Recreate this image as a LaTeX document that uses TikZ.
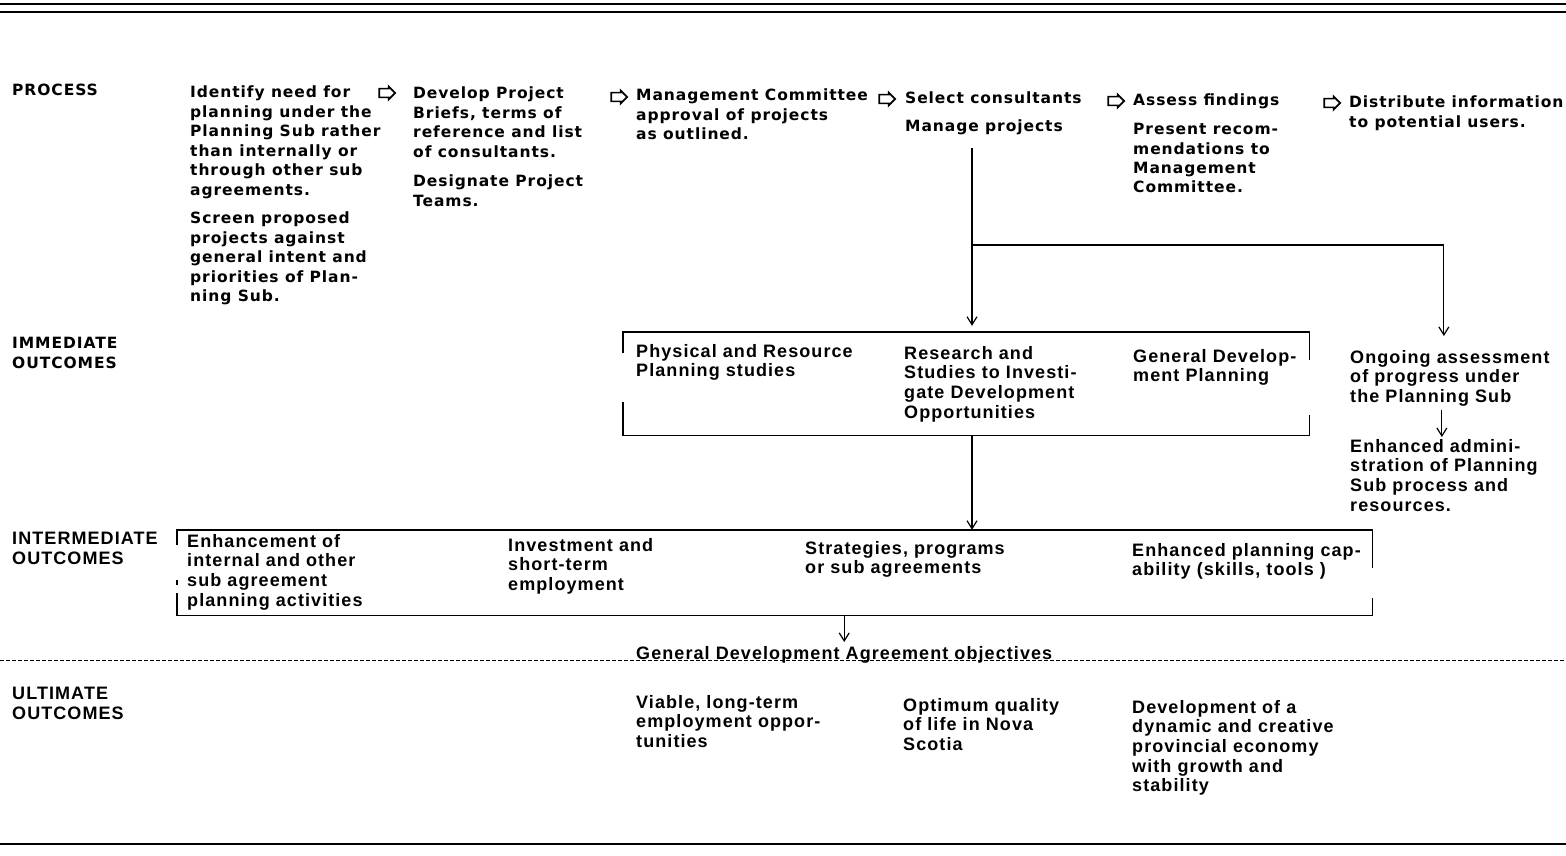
\documentclass[tikz,border=0pt]{standalone}
\usepackage{fontspec}
\newfontfamily\procfont[LetterSpace=6]{DejaVu Sans}
\newfontfamily\outfont[LetterSpace=6]{Liberation Sans}
\usetikzlibrary{arrows.meta,shapes.arrows}

\begin{document}
\begin{tikzpicture}[x=1pt,y=-1pt,
    proc/.style={anchor=north west,align=left,inner sep=0pt,
      font=\procfont\bfseries\fontsize{15.5}{19.5}\selectfont},
    outc/.style={anchor=north west,align=left,inner sep=0pt,
      font=\outfont\bfseries\fontsize{18}{19.6}\selectfont},
    flowarrow/.style={single arrow,draw,line width=1.7pt,minimum height=16pt,
      minimum width=13pt,single arrow head extend=2pt,inner sep=3.2pt},
    conn/.style={line width=1.2pt,-{Straight Barb[length=8pt,width=10pt]}},
    rule/.style={line width=1.4pt}]

\useasboundingbox (0,0) rectangle (1566,856);

% Page rules
\draw[line width=2.5pt] (0,4) -- (1566,4);
\draw[line width=2.5pt] (0,12) -- (1566,12);
\draw[line width=1pt,dash pattern=on 4pt off 2pt] (0,660) -- (1566,660);
\draw[line width=2pt] (0,844) -- (1566,844);

% Row labels
\node[proc] (lprocess) at (12,84) {PROCESS};
\node[proc] (limmediate) at (12,337) {IMMEDIATE\\OUTCOMES};
\node[outc] (lintermediate) at (12,532) {INTERMEDIATE\\OUTCOMES};
\node[outc] (lultimate) at (12,687) {ULTIMATE\\OUTCOMES};

% Process steps
\node[proc] (identify) at (190,86) {Identify need for\\planning under the\\Planning Sub rather\\than internally or\\through other sub\\agreements.};
\node[proc] (screen) at (190,212) {Screen proposed\\projects against\\general intent and\\priorities of Plan-\\ning Sub.};
\node[proc] (develop) at (413,87) {Develop Project\\Briefs, terms of\\reference and list\\of consultants.};
\node[proc] (designate) at (413,175) {Designate Project\\Teams.};
\node[proc] (approval) at (636,89) {Management Committee\\approval of projects\\as outlined.};
\node[proc] (select) at (905,92) {Select consultants};
\node[proc] (manage) at (905,120) {Manage projects};
\node[proc] (assess) at (1133,94) {Assess findings};
\node[proc] (present) at (1133,123) {Present recom-\\mendations to\\Management\\Committee.};
\node[proc] (distribute) at (1349,96) {Distribute information\\to potential users.};

% Step markers
\foreach \x/\y/\n in {385/93/s1,617/97/s2,885/99/s3,1114/101/s4,1330/103/s5}
    \node[flowarrow] (\n) at (\x,\y) {};

% Immediate outcomes
\node[minimum width=686pt,minimum height=103pt,inner sep=0pt] (immbox) at (966,383.5) {};
\draw[rule] (immbox.north west) ++(0,21) -- (immbox.north west) -- (immbox.north east) -- ++(0,28);
\draw[rule] (immbox.south west) ++(0,-33) -- (immbox.south west) -- (immbox.south east) -- ++(0,-20);
\node[outc] (physical) at (636,344) {Physical and Resource\\Planning studies};
\node[outc] (research) at (904,346) {Research and\\Studies to Investi-\\gate Development\\Opportunities};
\node[outc] (general) at (1133,349) {General Develop-\\ment Planning};
\node[outc] (ongoing) at (1350,350) {Ongoing assessment\\of progress under\\the Planning Sub};
\node[outc] (enhadmin) at (1350,439) {Enhanced admini-\\stration of Planning\\Sub process and\\resources.};

% Intermediate outcomes
\node[minimum width=1195pt,minimum height=85pt,inner sep=0pt] (intbox) at (774.5,572.5) {};
\draw[rule] (intbox.north west) ++(0,15) -- (intbox.north west) -- (intbox.north east) -- ++(0,38);
\draw[rule] (intbox.west) ++(0,7) -- ++(0,5);
\draw[rule] (intbox.south west) ++(0,-22) -- (intbox.south west) -- (intbox.south east) -- ++(0,-17);
\node[outc] (enhancement) at (187,534) {Enhancement of\\internal and other\\sub agreement\\planning activities};
\node[outc] (investment) at (508,538) {Investment and\\short-term\\employment};
\node[outc] (strategies) at (805,541) {Strategies, programs\\or sub agreements};
\node[outc] (capability) at (1132,543) {Enhanced planning cap-\\ability (skills, tools )};

% Ultimate outcomes
\node[outc] (gda) at (636,646) {General Development Agreement objectives};
\node[outc] (viable) at (636,695) {Viable, long-term\\employment oppor-\\tunities};
\node[outc] (optimum) at (903,698) {Optimum quality\\of life in Nova\\Scotia};
\node[outc] (economy) at (1132,700) {Development of a\\dynamic and creative\\provincial economy\\with growth and\\stability};

% Connectors
\coordinate (drop) at (972,148);
\coordinate (split) at (972,245);
\draw[conn] (drop) -- ([yshift=6pt]drop |- immbox.north);
\draw[conn,shorten >=14pt] (split) -| ([xshift=-6pt]ongoing.north);
\draw[conn] (immbox.south -| drop) -- (intbox.north -| drop);
\draw[conn,shorten <=4pt,shorten >=2pt] ([xshift=-8pt]ongoing.south) -- ([xshift=-8pt]ongoing.south |- enhadmin.north);
\draw[conn,shorten >=4pt] (intbox.south -| gda.north) -- (gda.north);

\end{tikzpicture}
\end{document}
